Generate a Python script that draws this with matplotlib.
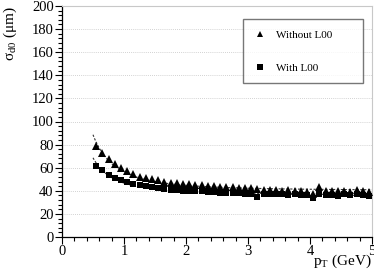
import numpy as np
import matplotlib
matplotlib.use("Agg")
import matplotlib.pyplot as plt
from matplotlib.ticker import MultipleLocator

plt.rcParams['font.family'] = ['Liberation Serif', 'DejaVu Serif']
plt.rcParams['mathtext.fontset'] = 'custom'
plt.rcParams['mathtext.rm'] = 'Liberation Serif'
plt.rcParams['mathtext.it'] = 'Liberation Serif'

pt = [0.55, 0.65, 0.75, 0.85, 0.95, 1.05, 1.15, 1.25, 1.35, 1.45, 1.55, 1.65, 1.75, 1.85, 1.95,
      2.05, 2.15, 2.25, 2.35, 2.45, 2.55, 2.65, 2.75, 2.85, 2.95, 3.05, 3.15, 3.25, 3.35, 3.45,
      3.55, 3.65, 3.75, 3.85, 3.95, 4.05, 4.15, 4.25, 4.35, 4.45, 4.55, 4.65, 4.75, 4.85, 4.95]
without_l00 = [79, 73, 67.5, 63, 60, 57.4, 54.8, 52, 50.8, 50, 49, 48, 46.8, 46.5, 46,
               45.5, 45, 45, 44.5, 44, 43.5, 43, 43, 42.5, 42, 42, 41.5, 41, 41, 40.5,
               40, 40.5, 40, 40, 39, 37, 43, 40, 40, 39.5, 40, 39, 40.5, 39.5, 39]
with_l00 = [61.7, 58, 54, 50.8, 49, 47.3, 46, 45, 43.9, 43, 42, 41.5, 40.7, 40.5, 40,
            40, 39.5, 39.5, 39, 39, 38.5, 38, 38.5, 38, 37.5, 37.5, 35, 37.5, 37, 37,
            37, 36.5, 37, 36, 36.5, 34, 37, 36.5, 36.5, 35.5, 37, 36, 37, 36.5, 35.5]
labels = ["Without L00", "With L00"]

fig = plt.figure(figsize=(3.74, 2.72), dpi=100)
ax = fig.add_axes([62/374, 1-237/272, 310/374, 231/272])

x = np.array(pt)
xf = np.linspace(0.5, 5.0, 200)
for vals in (without_l00, with_l00):
    y = np.array(vals)
    c = np.polyfit(1/x**2, y**2, 1)
    yf = np.sqrt(np.clip(c[1] + c[0]/xf**2, 0, None))
    ax.plot(xf, yf, ls=(0, (2, 1.5)), color='#333333', lw=0.8, zorder=2)

ax.plot(x, without_l00, '^', color='black', ms=5.5, mew=0, label=labels[0], zorder=3)
ax.plot(x, with_l00, 's', color='black', ms=5, mew=0, label=labels[1], zorder=3)

ax.set_xlim(0, 5)
ax.set_ylim(0, 200)
ax.xaxis.set_major_locator(MultipleLocator(1))
ax.xaxis.set_minor_locator(MultipleLocator(0.2))
ax.yaxis.set_major_locator(MultipleLocator(20))
ax.yaxis.set_minor_locator(MultipleLocator(4))
ax.tick_params(which='major', direction='out', length=5, width=0.8, labelsize=10.5, pad=1)
ax.tick_params(which='minor', direction='out', length=3, width=0.8)
ax.tick_params(top=False, right=False)

for yv in range(20, 201, 20):
    ax.axhline(yv, color='#c4c4c4', lw=0.6, ls=(0, (1, 1.5)), zorder=1)

ax.spines['top'].set_color('#c8c8c8')
ax.spines['right'].set_color('#c8c8c8')
ax.spines['left'].set_linewidth(0.9)
ax.spines['bottom'].set_linewidth(0.9)

ax.set_ylabel(r'$\sigma_{\rm d0}$ ($\mu$m)', fontsize=11, loc='top', labelpad=9)
ax.set_xlabel(r'p$_{\rm T}$ (GeV)', fontsize=11, loc='right', labelpad=-4)

leg = ax.legend(loc='upper left', bbox_to_anchor=(243/374, 1-22/272, 120/374, 0.01),
                bbox_transform=fig.transFigure, mode='expand', frameon=True, fancybox=False,
                fontsize=8, labelspacing=2.1, borderpad=0.95, handlelength=1.2,
                handletextpad=0.8, markerscale=0.75, borderaxespad=0)
leg.get_frame().set_edgecolor('#555555')
leg.get_frame().set_linewidth(1.0)

fig.savefig('out.png', dpi=100)
